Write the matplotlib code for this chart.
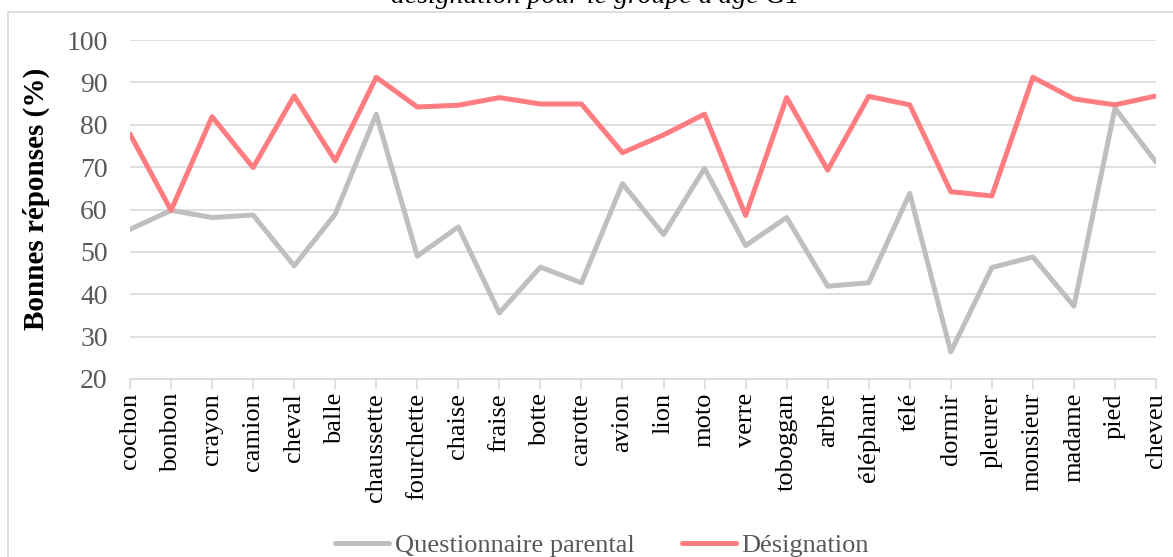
import matplotlib
matplotlib.use("Agg")
import matplotlib.pyplot as plt
from matplotlib.patches import Rectangle

plt.rcParams['font.family'] = ['Liberation Serif', 'DejaVu Serif']

mots = ["cochon", "bonbon", "crayon", "camion", "cheval", "balle", "chaussette",
        "fourchette", "chaise", "fraise", "botte", "carotte", "avion", "lion",
        "moto", "verre", "toboggan", "arbre", "éléphant", "télé", "dormir",
        "pleurer", "monsieur", "madame", "pied", "cheveu"]
questionnaire = [55.3, 59.8, 58.1, 58.7, 46.7, 58.9, 82.5, 49.0, 55.9, 35.6,
                 46.4, 42.7, 66.1, 54.1, 69.7, 51.5, 58.1, 41.9, 42.7, 63.8,
                 26.4, 46.3, 48.8, 37.2, 83.9, 71.2]
designation = [77.8, 59.8, 81.9, 69.9, 86.8, 71.5, 91.2, 84.2, 84.6, 86.4,
               84.9, 84.9, 73.4, 77.6, 82.5, 58.6, 86.4, 69.3, 86.7, 84.7,
               64.2, 63.2, 91.2, 86.1, 84.7, 86.8]

W, H = 1173, 557
fig = plt.figure(figsize=(W / 100, H / 100), dpi=100)
ax = fig.add_axes([130 / W, 1 - 379 / H, (1156 - 130) / W, (379 - 40) / H])

# cadre de la zone du graphique
fig.patches.append(Rectangle((8 / W, -0.1), 1.2, 1 - 12 / H + 0.1,
                             transform=fig.transFigure, fill=False,
                             edgecolor="#D9D9D9", linewidth=1.2))

x = range(len(mots))
ax.plot(x, questionnaire, color="#BFBFBF", lw=3.6, label="Questionnaire parental",
        solid_joinstyle="round", solid_capstyle="round")
ax.plot(x, designation, color="#FF7C80", lw=3.6, label="Désignation",
        solid_joinstyle="round", solid_capstyle="round")

ax.set_xlim(0, len(mots) - 1)
ax.set_ylim(20, 100)
ax.set_yticks(range(20, 101, 10))
ax.set_xticks(list(x))
ax.set_xticklabels(mots, rotation=90, fontsize=19, color="#000000")
ax.tick_params(axis="y", length=0, labelsize=20, labelcolor="#595959", pad=16)
ax.tick_params(axis="x", length=7, color="#D9D9D9", width=1.2, pad=3)
ax.grid(axis="y", color="#D9D9D9", lw=1.2)
ax.set_axisbelow(True)
for s in ["top", "right", "left"]:
    ax.spines[s].set_visible(False)
ax.spines["bottom"].set_color("#D9D9D9")
ax.spines["bottom"].set_linewidth(1.2)

ax.set_ylabel("Bonnes réponses (%)", fontsize=21, fontweight="bold")
ax.yaxis.set_label_coords(-80 / (1156 - 130), (379 - 199) / (379 - 40))

fig.text(595 / W, 1 - 3 / H, "désignation pour le groupe d'âge G1", ha="center",
         va="baseline", fontsize=20, style="italic")

fig.legend(loc="center", bbox_to_anchor=(602 / W, 1 - 545 / H), ncol=2, frameon=False,
           fontsize=19, handlelength=2.05, handletextpad=0.2, columnspacing=1.8,
           labelcolor="#595959")

fig.savefig("out.png", dpi=100)
